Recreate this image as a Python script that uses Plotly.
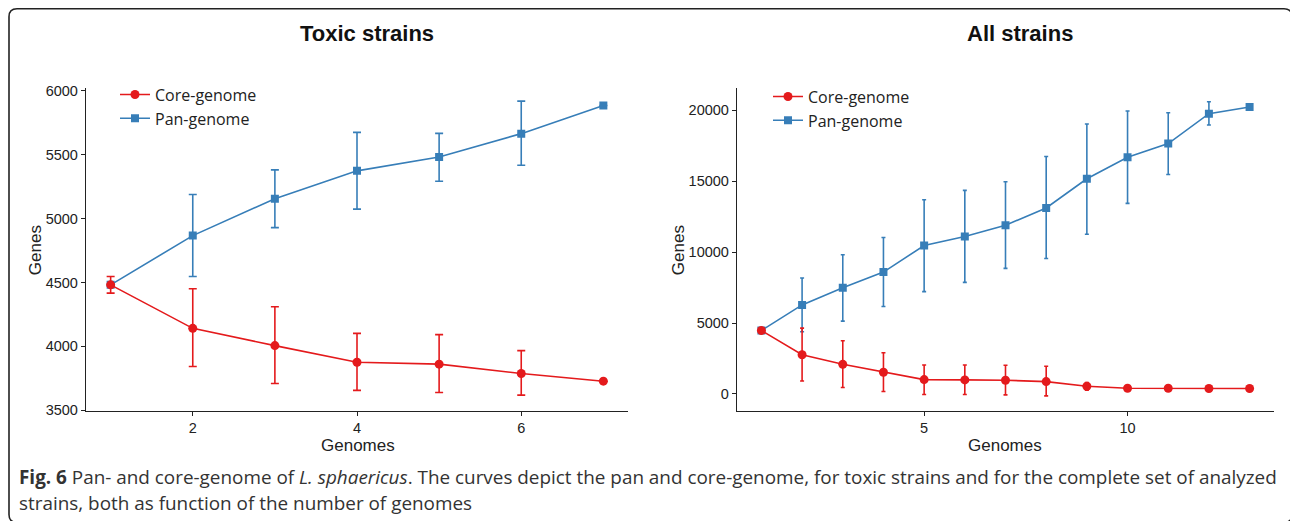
import plotly.graph_objects as go

W, H = 1290, 521

# ---------------- data: Toxic strains ----------------
toxic_genomes = [1, 2, 3, 4, 5, 6, 7]
toxic_core = [4481, 4141, 4006, 3876, 3861, 3788, 3728]
toxic_core_hi = [4546, 4450, 4310, 4102, 4092, 3967, 3728]
toxic_core_lo = [4416, 3843, 3710, 3656, 3640, 3619, 3728]
toxic_pan = [4481, 4866, 5154, 5372, 5481, 5663, 5883]
toxic_pan_hi = [4481, 5187, 5380, 5673, 5665, 5917, 5883]
toxic_pan_lo = [4481, 4546, 4928, 5073, 5291, 5416, 5883]

# ---------------- data: All strains ----------------
all_genomes = [1, 2, 3, 4, 5, 6, 7, 8, 9, 10, 11, 12, 13]
all_core = [4473, 2763, 2084, 1522, 1007, 984, 960, 867, 539, 398, 398, 375, 375]
all_core_hi = [4473, 4637, 3747, 2904, 2037, 2037, 2014, 1944, 796, 398, 398, 375, 375]
all_core_lo = [4473, 913, 445, 164, -47, -47, -70, -140, 258, 398, 398, 375, 375]
all_pan = [4473, 6276, 7494, 8595, 10468, 11101, 11897, 13115, 15176, 16698, 17658, 19766, 20234]
all_pan_hi = [4473, 8173, 9813, 11030, 13700, 14356, 14965, 16745, 19040, 19953, 19836, 20609, 20234]
all_pan_lo = [4473, 4380, 5129, 6159, 7213, 7869, 8852, 9555, 11265, 13443, 15480, 18970, 20234]

titles = ["Toxic strains", "All strains"]
toxic_yticks = [3500, 4000, 4500, 5000, 5500, 6000]
toxic_xticks = [2, 4, 6]
all_yticks = [0, 5000, 10000, 15000, 20000]
all_xticks = [5, 10]

RED = "#E41A1C"
BLUE = "#377EB8"

# the photographed page is slightly squeezed vertically; place items by target pixel
VS, VOFF = 0.9776, 4.2


def px(x):
    return x / W


def py(y):
    return 1 - ((y - VOFF) / VS) / H


def err(mean, hi, lo):
    return dict(type="data", symmetric=False,
                array=[h - m for h, m in zip(hi, mean)],
                arrayminus=[m - l for l, m in zip(lo, mean)])


fig = go.Figure()

def add_series(x, mean, hi, lo, name, color, symbol, msize, xa, ya, legend, capw):
    e = err(mean, hi, lo)
    e.update(color=color, thickness=1.6, width=capw)
    fig.add_trace(go.Scatter(
        x=x, y=mean, name=name, mode="lines+markers",
        line=dict(color=color, width=1.6),
        marker=dict(color=color, symbol=symbol, size=msize),
        error_y=e, xaxis=xa, yaxis=ya, legend=legend))

# left panel: pan first, core on top
add_series(toxic_genomes, toxic_pan, toxic_pan_hi, toxic_pan_lo, "Pan-genome", BLUE, "square", 8, "x", "y", "legend", 4)
add_series(toxic_genomes, toxic_core, toxic_core_hi, toxic_core_lo, "Core-genome", RED, "circle", 9, "x", "y", "legend", 4)
# right panel
add_series(all_genomes, all_pan, all_pan_hi, all_pan_lo, "Pan-genome", BLUE, "square", 8, "x2", "y2", "legend2", 2)
add_series(all_genomes, all_core, all_core_hi, all_core_lo, "Core-genome", RED, "circle", 9, "x2", "y2", "legend2", 2)

tickfont = dict(family="Liberation Sans, Arial, sans-serif", size=14.5, color="#222")
axis_common = dict(showline=True, linecolor="#222", linewidth=1.3, ticks="outside",
                   ticklen=4, tickwidth=1.2, tickcolor="#222", showgrid=False,
                   zeroline=False, tickfont=tickfont, mirror=False, tickformat="d")

ydom = [py(411), py(87)]
fig.update_layout(
    width=W, height=H, margin=dict(l=0, r=0, t=0, b=0),
    paper_bgcolor="white", plot_bgcolor="white", showlegend=True,
    xaxis=dict(domain=[px(86), px(628)], range=[0.7, 7.3], tickvals=toxic_xticks,
               anchor="y", **axis_common),
    yaxis=dict(domain=ydom, range=[3497, 6023], tickvals=toxic_yticks,
               anchor="x", **axis_common),
    xaxis2=dict(domain=[px(737), px(1274)], range=[0.4, 13.6], tickvals=all_xticks,
                anchor="y2", **axis_common),
    yaxis2=dict(domain=ydom, range=[-1190, 21610], tickvals=all_yticks,
                anchor="x2", **axis_common),
    legend=dict(x=px(115), y=py(77), xanchor="left", yanchor="top",
                bgcolor="rgba(0,0,0,0)", traceorder="reversed",
                font=dict(family="Open Sans, sans-serif", size=16, color="#222"),
                tracegroupgap=0),
    legend2=dict(x=px(768), y=py(79), xanchor="left", yanchor="top",
                 bgcolor="rgba(0,0,0,0)", traceorder="reversed",
                 font=dict(family="Open Sans, sans-serif", size=16, color="#222"),
                 tracegroupgap=0),
)

ann = []
title_font = dict(family="Liberation Sans, Arial, sans-serif", size=22, color="#111")
ann.append(dict(text="<b>" + titles[0] + "</b>", x=px(367), y=py(33), xref="paper", yref="paper",
                showarrow=False, font=title_font, xanchor="center", yanchor="middle"))
ann.append(dict(text="<b>" + titles[1] + "</b>", x=px(1020), y=py(33), xref="paper", yref="paper",
                showarrow=False, font=title_font, xanchor="center", yanchor="middle"))
axt_font = dict(family="Liberation Sans, Arial, sans-serif", size=17, color="#222")
for cx in (358, 1005):
    ann.append(dict(text="Genomes", x=px(cx), y=py(446), xref="paper", yref="paper",
                    showarrow=False, font=axt_font, xanchor="center", yanchor="middle",
                    borderpad=0))
for cx in (35, 678):
    ann.append(dict(text="Genes", x=px(cx), y=py(250), xref="paper", yref="paper",
                    showarrow=False, font=axt_font, xanchor="center", yanchor="middle",
                    textangle=-90))
cap_font = dict(family="Open Sans, sans-serif", size=18.9, color="#333")
ann.append(dict(text="<b>Fig. 6</b> Pan- and core-genome of <i>L. sphaericus</i>. The curves depict the pan and core-genome, for toxic strains and for the complete set of analyzed",
                x=px(17), y=py(477), xref="paper", yref="paper", showarrow=False,
                font=cap_font, xanchor="left", yanchor="middle"))
ann.append(dict(text="strains, both as function of the number of genomes",
                x=px(17), y=py(504), xref="paper", yref="paper", showarrow=False,
                font=cap_font, xanchor="left", yanchor="middle"))
fig.update_layout(annotations=ann)

# rounded frame around the figure (right and bottom edges fall at the border)
L, T, R, B, r = 9, 8, 1292, 523, 8
path = (f"M {px(L)} {py(T + r)} Q {px(L)} {py(T)} {px(L + r)} {py(T)} "
        f"L {px(R - r)} {py(T)} Q {px(R)} {py(T)} {px(R)} {py(T + r)} "
        f"L {px(R)} {py(B - r)} Q {px(R)} {py(B)} {px(R - r)} {py(B)} "
        f"L {px(L + r)} {py(B)} Q {px(L)} {py(B)} {px(L)} {py(B - r)} Z")
fig.add_shape(type="path", path=path, xref="paper", yref="paper",
              line=dict(color="#222", width=1.6), fillcolor="rgba(0,0,0,0)")

css = ("var s=document.createElement('style');"
       "s.textContent='html,body{margin:0;padding:0;height:521px;overflow:hidden;}"
       "body>div{margin:0;padding:0;line-height:0;font-size:0;}';"
       "document.head.appendChild(s);")
fig.write_html("out.html", config={"displayModeBar": False}, post_script=css)
